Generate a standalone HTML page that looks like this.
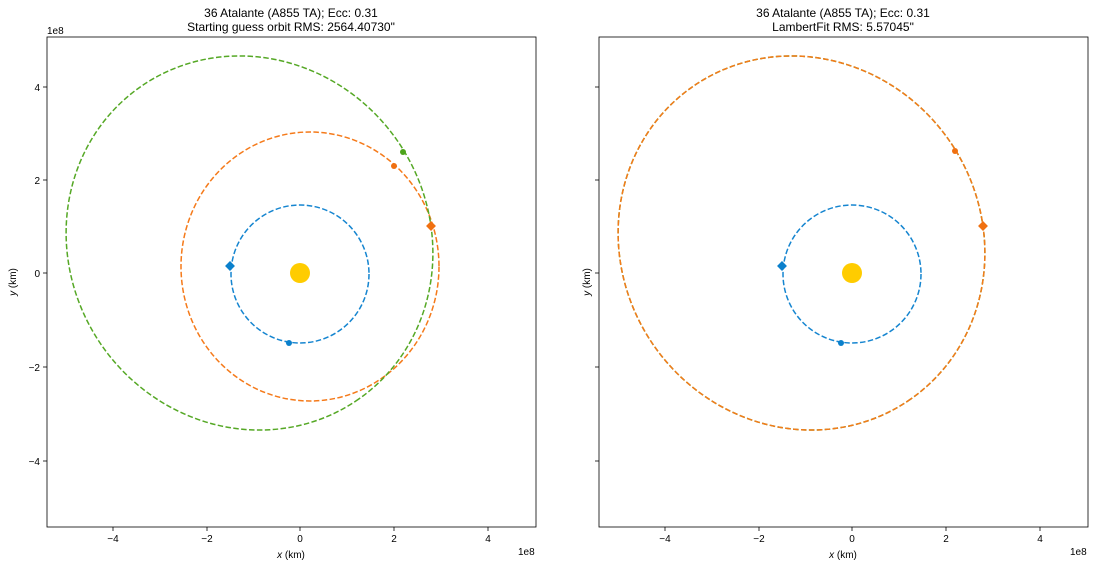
<!DOCTYPE html>
<html><head><style>body{margin:0;background:#fff}svg{display:block}</style></head><body>
<svg width="1095" height="568" xmlns="http://www.w3.org/2000/svg" font-family="Liberation Sans, DejaVu Sans, sans-serif" font-size="10">
<rect width="1095" height="568" fill="#fff"/>
<defs><clipPath id="cl"><rect x="47" y="37" width="489" height="490"/></clipPath><clipPath id="cr"><rect x="599" y="37" width="489" height="490"/></clipPath></defs>
<g clip-path="url(#cl)" fill="none" stroke-width="1.5" stroke-dasharray="5.5,2.4">
<circle cx="300" cy="274" r="69" stroke="#1585d0"/>
<ellipse cx="310" cy="266.5" rx="129" ry="134.5" stroke="#f57a1a"/>
<ellipse cx="249.5" cy="243" rx="190.5" ry="179.8" stroke="#55a825" transform="rotate(55 249.5 243)"/>
</g>
<circle cx="300" cy="273" r="10" fill="#ffcc00"/>
<rect x="226.5" y="262.5" width="7" height="7" fill="#0a80cc" transform="rotate(45 230 266)"/>
<circle cx="289" cy="343" r="3" fill="#0a80cc"/>
<circle cx="394" cy="166" r="3" fill="#f07010"/>
<circle cx="403" cy="152" r="3" fill="#4ca51a"/>
<rect x="427.5" y="222.5" width="7" height="7" fill="#f07010" transform="rotate(45 431 226)"/>
<rect x="47" y="37" width="489" height="490" fill="none" stroke="#000" stroke-width="0.8"/>
<g stroke="#000" stroke-width="0.8">
<line x1="113" y1="527" x2="113" y2="531"/><line x1="207" y1="527" x2="207" y2="531"/><line x1="300" y1="527" x2="300" y2="531"/><line x1="394" y1="527" x2="394" y2="531"/><line x1="488" y1="527" x2="488" y2="531"/>
<line x1="43" y1="87" x2="47" y2="87"/><line x1="43" y1="180" x2="47" y2="180"/><line x1="43" y1="273" x2="47" y2="273"/><line x1="43" y1="367" x2="47" y2="367"/><line x1="43" y1="461" x2="47" y2="461"/>
</g>
<g text-anchor="middle"><text x="113" y="542">−4</text><text x="207" y="542">−2</text><text x="300" y="542">0</text><text x="394" y="542">2</text><text x="488" y="542">4</text></g>
<g text-anchor="end"><text x="40" y="91">4</text><text x="40" y="184">2</text><text x="40" y="277">0</text><text x="40" y="371">−2</text><text x="40" y="465">−4</text></g>
<text x="47" y="34">1e8</text><text x="518" y="555">1e8</text>
<text x="291" y="558" text-anchor="middle"><tspan font-style="italic">x</tspan> (km)</text>
<text transform="translate(16 282) rotate(-90)" text-anchor="middle"><tspan font-style="italic">y</tspan> (km)</text>
<text x="291" y="17" text-anchor="middle" font-size="12">36 Atalante (A855 TA); Ecc: 0.31</text>
<text x="291" y="31" text-anchor="middle" font-size="12">Starting guess orbit RMS: 2564.40730"</text>
<g clip-path="url(#cr)" fill="none" stroke-width="1.5" stroke-dasharray="5.5,2.4">
<circle cx="852" cy="274" r="69" stroke="#1585d0"/>
<ellipse cx="801.5" cy="243" rx="190.5" ry="179.8" stroke="#55a825" transform="rotate(55 801.5 243)"/>
<ellipse cx="801.5" cy="243" rx="190.5" ry="179.8" stroke="#f57a1a" transform="rotate(55 801.5 243)"/>
</g>
<circle cx="852" cy="273" r="10" fill="#ffcc00"/>
<rect x="778.5" y="262.5" width="7" height="7" fill="#0a80cc" transform="rotate(45 782 266)"/>
<circle cx="841" cy="343" r="3" fill="#0a80cc"/>
<circle cx="955" cy="151" r="3" fill="#f07010"/>
<rect x="979.5" y="222.5" width="7" height="7" fill="#f07010" transform="rotate(45 983 226)"/>
<rect x="599" y="37" width="489" height="490" fill="none" stroke="#000" stroke-width="0.8"/>
<g stroke="#000" stroke-width="0.8">
<line x1="665" y1="527" x2="665" y2="531"/><line x1="759" y1="527" x2="759" y2="531"/><line x1="852" y1="527" x2="852" y2="531"/><line x1="946" y1="527" x2="946" y2="531"/><line x1="1040" y1="527" x2="1040" y2="531"/>
<line x1="595" y1="87" x2="599" y2="87"/><line x1="595" y1="180" x2="599" y2="180"/><line x1="595" y1="273" x2="599" y2="273"/><line x1="595" y1="367" x2="599" y2="367"/><line x1="595" y1="461" x2="599" y2="461"/>
</g>
<g text-anchor="middle"><text x="665" y="542">−4</text><text x="759" y="542">−2</text><text x="852" y="542">0</text><text x="946" y="542">2</text><text x="1040" y="542">4</text></g>
<text x="1070" y="555">1e8</text>
<text x="843" y="558" text-anchor="middle"><tspan font-style="italic">x</tspan> (km)</text>
<text transform="translate(590 282) rotate(-90)" text-anchor="middle"><tspan font-style="italic">y</tspan> (km)</text>
<text x="843" y="17" text-anchor="middle" font-size="12">36 Atalante (A855 TA); Ecc: 0.31</text>
<text x="843" y="31" text-anchor="middle" font-size="12">LambertFit RMS: 5.57045"</text>
</svg>
</body></html>
